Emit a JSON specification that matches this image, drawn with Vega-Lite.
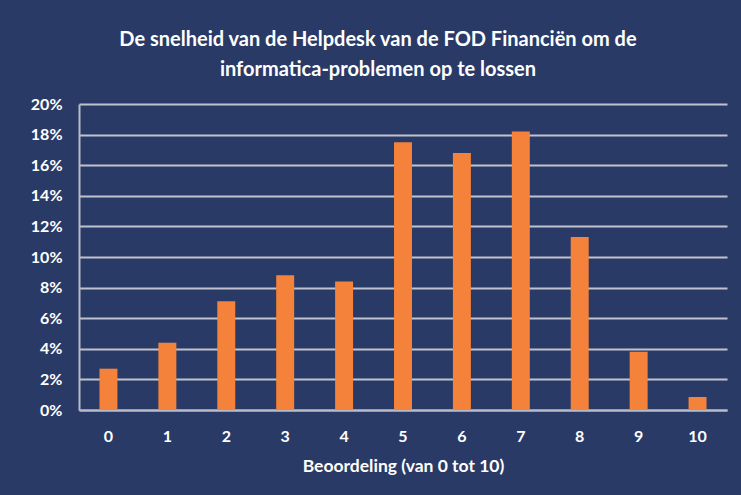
{
  "$schema": "https://vega.github.io/schema/vega-lite/v6.json",
  "autosize": "none",
  "width": 648,
  "height": 306,
  "padding": {"left": 79, "top": 104, "right": 14, "bottom": 85},
  "background": "#2a3a67",
  "title": {
    "text": ["De snelheid van de Helpdesk van de FOD Financiën om de", "informatica-problemen op te lossen"],
    "font": "Lato",
    "fontSize": 20,
    "fontWeight": "bold",
    "color": "#ffffff",
    "anchor": "middle",
    "dx": -25,
    "offset": 16,
    "lineHeight": 30
  },
  "data": {
    "values": [
      {"score": 0, "pct": 0.027},
      {"score": 1, "pct": 0.044},
      {"score": 2, "pct": 0.071},
      {"score": 3, "pct": 0.088},
      {"score": 4, "pct": 0.084},
      {"score": 5, "pct": 0.175},
      {"score": 6, "pct": 0.168},
      {"score": 7, "pct": 0.182},
      {"score": 8, "pct": 0.113},
      {"score": 9, "pct": 0.038},
      {"score": 10, "pct": 0.0085}
    ]
  },
  "mark": {"type": "bar", "color": "#f5823a"},
  "encoding": {
    "x": {
      "field": "score",
      "type": "ordinal",
      "sort": "ascending",
      "scale": {"paddingInner": 0.695, "paddingOuter": 0.3475},
      "axis": {
        "title": "Beoordeling (van 0 tot 10)",
        "labelAngle": 0,
        "labelFont": "Lato",
        "labelFontSize": 16,
        "labelFontWeight": "bold",
        "labelColor": "#ffffff",
        "labelPadding": 18,
        "ticks": false,
        "domainColor": "#b8bcc8",
        "domainWidth": 2,
        "titleFont": "Lato",
        "titleFontSize": 17.5,
        "titleFontWeight": "bold",
        "titleColor": "#ffffff",
        "titlePadding": 13
      }
    },
    "y": {
      "field": "pct",
      "type": "quantitative",
      "scale": {"domain": [0, 0.2], "nice": false},
      "axis": {
        "title": null,
        "format": ".0%",
        "values": [0, 0.02, 0.04, 0.06, 0.08, 0.1, 0.12, 0.14, 0.16, 0.18, 0.2],
        "labelFont": "Lato",
        "labelFontSize": 16,
        "labelFontWeight": "bold",
        "labelColor": "#ffffff",
        "labelPadding": 17,
        "ticks": false,
        "domainColor": "#b8bcc8",
        "domainWidth": 2,
        "grid": true,
        "gridColor": "#bfc3cd",
        "gridWidth": 2
      }
    }
  },
  "config": {"view": {"stroke": null}}
}
